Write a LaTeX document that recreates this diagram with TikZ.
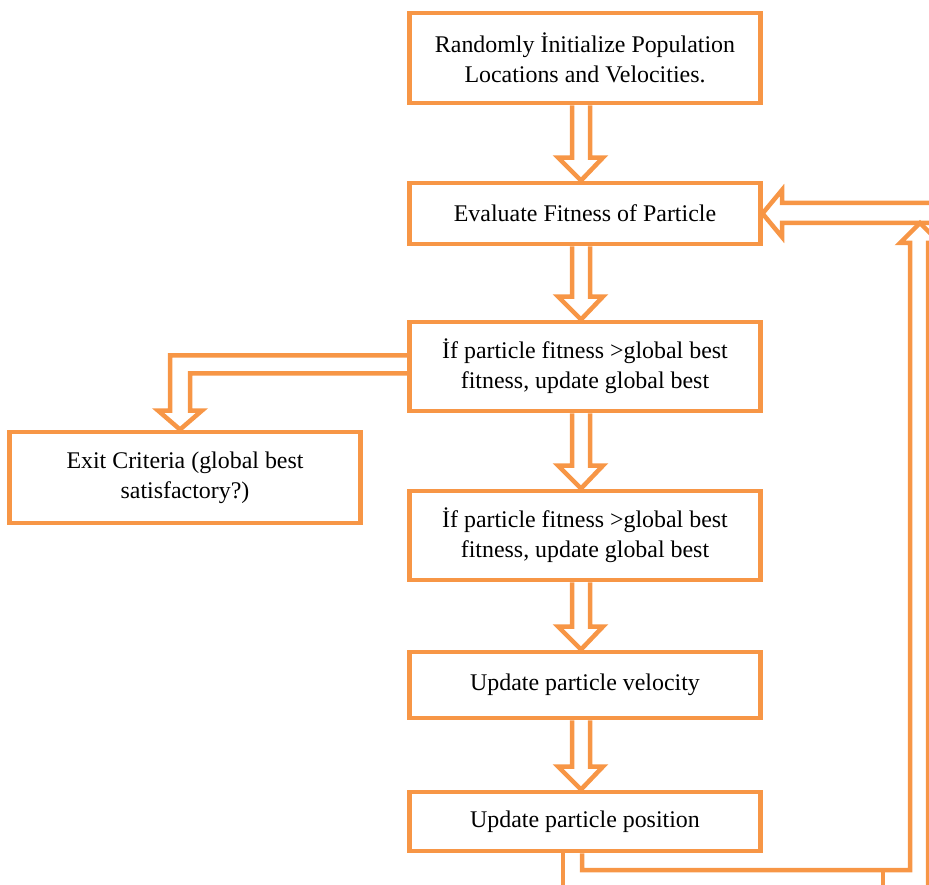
\documentclass[tikz,border=0pt]{standalone}
\usepackage{fontspec}
\setmainfont{Liberation Serif}
\usepackage{tikz}
\usetikzlibrary{positioning,calc}
\definecolor{psoorange}{RGB}{247,150,70}
\tikzstyle{stepbox}=[draw=psoorange, line width=3.5pt, fill=white, align=center, minimum width=8.75cm, inner sep=2pt, font=\fontsize{17}{21.5}\selectfont]
\tikzstyle{flow}=[draw=psoorange, line width=3.2pt, line join=miter]
% hollow block arrow from the bottom of #1 to the top of #2
\newcommand{\hollowdown}[2]{%
  \draw[flow] ($(#1.south)+(-13,0)$) -- ($(#2.north)+(-13,-23)$) -- ($(#2.north)+(-27,-23)$) -- ($(#2.north)+(-4,0)$) -- ($(#2.north)+(18,-23)$) -- ($(#2.north)+(5,-23)$) -- ($(#1.south)+(5,0)$);}
\begin{document}
\begin{tikzpicture}[x=0.025cm, y=-0.025cm]
	\useasboundingbox (0,0) rectangle (929,885);
	\node[stepbox, minimum height=2.25cm] (init) at (585, 58) {Randomly İnitialize Population\\Locations and Velocities.};
	\node[stepbox, minimum height=1.525cm] (evaluate) at (585, 213.5) {Evaluate Fitness of Particle};
	\node[stepbox, minimum height=2.225cm] (check1) at (585, 366.5) {İf particle fitness >global best\\fitness, update global best};
	\node[stepbox, minimum height=2.275cm] (exitc) at (185, 477.5) {Exit Criteria (global best\\satisfactory?)};
	\node[stepbox, minimum height=2.225cm] (check2) at (585, 535.5) {İf particle fitness >global best\\fitness, update global best};
	\node[stepbox, minimum height=1.65cm] (velocity) at (585, 685) {Update particle velocity};
	\node[stepbox, minimum height=1.475cm] (position) at (585, 821.5) {Update particle position};
	\hollowdown{init}{evaluate}
	\hollowdown{evaluate}{check1}
	\hollowdown{check1}{check2}
	\hollowdown{check2}{velocity}
	\hollowdown{velocity}{position}
	% branch to the exit test
	\draw[flow] ($(check1.west)+(0,-11)$) -| ($(exitc.north)+(-15,-19)$) -- ($(exitc.north)+(-27,-19)$) -- ($(exitc.north)+(-5,0)$) -- ($(exitc.north)+(17,-19)$) -- ($(exitc.north)+(5,-19)$) |- ($(check1.west)+(0,7)$);
	% loop back, cut at the picture edge
	\begin{scope}
		\clip (0,0) rectangle (929,885);
		\coordinate (loopdown) at (563,900);
		\coordinate (loopup) at (928,900);
		\coordinate (loopstub) at (883,900);
		\coordinate (loopin) at (940,203);
		\draw[flow] ($(position.south)+(-22,0)$) -- (loopdown);
		\draw[flow] ($(position.south)+(-3,0)$) |- (910,870) -- (910,243) -- (900,243) -- (920,223) -- (940,243) -- (928,243) -- (loopup);
		\draw[flow] (883,870) -- (loopstub);
		\draw[flow] (loopin) -- (782,203) -- (782,190) -- (evaluate.east) -- (782,237) -- (782,223) -- (940,223);
	\end{scope}
\end{tikzpicture}
\end{document}
